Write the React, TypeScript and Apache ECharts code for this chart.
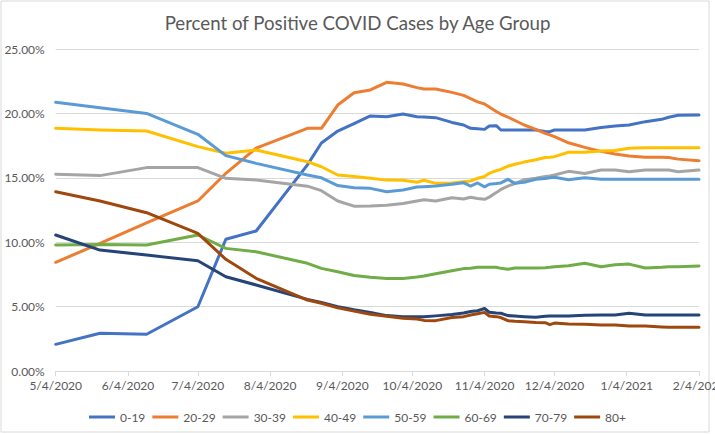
import { useEffect, useRef } from 'react';
import * as echarts from 'echarts';

const sampleDates = [
  '5/4/2020', '5/23/2020', '6/12/2020', '7/4/2020', '7/16/2020', '7/29/2020', '8/20/2020', '8/26/2020',
  '9/2/2020', '9/9/2020', '9/16/2020', '9/23/2020', '9/30/2020', '10/6/2020', '10/9/2020', '10/14/2020',
  '10/21/2020', '10/26/2020', '10/29/2020', '11/1/2020', '11/4/2020', '11/6/2020', '11/9/2020', '11/11/2020',
  '11/14/2020', '11/17/2020', '11/21/2020', '11/26/2020', '11/30/2020', '12/2/2020', '12/4/2020', '12/10/2020',
  '12/17/2020', '12/24/2020', '12/30/2020', '1/5/2021', '1/12/2021', '1/19/2021', '1/22/2021', '1/26/2021',
  '2/4/2021',
];

const age0to19 = [
  2.07, 2.93, 2.85, 4.99, 10.23, 10.87, 16.0, 17.7,
  18.63, 19.2, 19.8, 19.74, 19.95, 19.74, 19.72, 19.67,
  19.3, 19.1, 18.84, 18.8, 18.76, 19.02, 19.05, 18.71,
  18.71, 18.71, 18.71, 18.71, 18.6, 18.58, 18.71, 18.71,
  18.71, 18.9, 19.02, 19.1, 19.36, 19.54, 19.7, 19.85,
  19.88,
];
const age20to29 = [
  8.44, 9.9, 11.5, 13.2, 15.35, 17.3, 18.84, 18.84,
  20.65, 21.6, 21.82, 22.41, 22.28, 22.0, 21.9, 21.9,
  21.63, 21.4, 21.15, 20.9, 20.73, 20.5, 20.15, 19.95,
  19.72, 19.45, 19.1, 18.76, 18.45, 18.33, 18.2, 17.72,
  17.36, 17.05, 16.85, 16.7, 16.6, 16.59, 16.57, 16.45,
  16.33,
];
const age30to39 = [
  15.27, 15.17, 15.79, 15.79, 14.96, 14.83, 14.35, 14.0,
  13.2, 12.8, 12.81, 12.86, 13.0, 13.2, 13.3, 13.2,
  13.45, 13.35, 13.49, 13.4, 13.33, 13.5, 13.85, 14.1,
  14.35, 14.55, 14.85, 14.96, 15.1, 15.14, 15.22, 15.5,
  15.33, 15.61, 15.61, 15.47, 15.6, 15.61, 15.61, 15.47,
  15.6,
];
const age40to49 = [
  18.84, 18.71, 18.63, 17.42, 16.9, 17.16, 16.25, 15.86,
  15.22, 15.1, 14.96, 14.82, 14.81, 14.65, 14.81, 14.57,
  14.6, 14.7, 14.75, 14.96, 15.1, 15.35, 15.55, 15.65,
  15.9, 16.05, 16.22, 16.4, 16.57, 16.6, 16.64, 16.98,
  16.98, 17.08, 17.12, 17.3, 17.34, 17.34, 17.34, 17.34,
  17.34,
];
const age50to59 = [
  20.86, 20.44, 20.0, 18.38, 16.72, 16.12, 15.22, 15.0,
  14.4, 14.23, 14.18, 13.92, 14.05, 14.28, 14.31, 14.36,
  14.5, 14.62, 14.36, 14.6, 14.3, 14.5, 14.55, 14.6,
  14.88, 14.57, 14.65, 14.88, 14.95, 15.0, 15.05, 14.85,
  15.0, 14.88, 14.88, 14.88, 14.88, 14.88, 14.88, 14.88,
  14.88,
];
const age60to69 = [
  9.78, 9.83, 9.78, 10.56, 9.52, 9.26, 8.36, 7.97,
  7.71, 7.42, 7.27, 7.19, 7.19, 7.3, 7.38, 7.55,
  7.78, 7.95, 7.97, 8.05, 8.05, 8.05, 8.05, 7.97,
  7.9, 8.0, 8.0, 8.0, 8.02, 8.05, 8.1, 8.18,
  8.36, 8.1, 8.25, 8.3, 8.0, 8.05, 8.1, 8.1,
  8.15,
];
const age70to79 = [
  10.56, 9.39, 9.0, 8.56, 7.32, 6.68, 5.56, 5.33,
  4.99, 4.75, 4.55, 4.3, 4.22, 4.22, 4.22, 4.28,
  4.38, 4.5, 4.62, 4.68, 4.85, 4.56, 4.5, 4.48,
  4.3, 4.27, 4.22, 4.17, 4.25, 4.27, 4.27, 4.27,
  4.32, 4.35, 4.35, 4.48, 4.35, 4.35, 4.35, 4.35,
  4.35,
];
const age80plus = [
  13.92, 13.2, 12.29, 10.69, 8.67, 7.2, 5.51, 5.26,
  4.9, 4.65, 4.4, 4.25, 4.09, 4.04, 3.93, 3.91,
  4.15, 4.22, 4.35, 4.45, 4.55, 4.27, 4.22, 4.15,
  3.91, 3.86, 3.83, 3.77, 3.75, 3.6, 3.72, 3.65,
  3.62, 3.57, 3.57, 3.5, 3.49, 3.42, 3.39, 3.39,
  3.39,
];

const seriesDefs = [
  { name: '0-19', values: age0to19, color: '#4472C4' },
  { name: '20-29', values: age20to29, color: '#ED7D31' },
  { name: '30-39', values: age30to39, color: '#A5A5A5' },
  { name: '40-49', values: age40to49, color: '#FFC000' },
  { name: '50-59', values: age50to59, color: '#5B9BD5' },
  { name: '60-69', values: age60to69, color: '#70AD47' },
  { name: '70-79', values: age70to79, color: '#264478' },
  { name: '80+', values: age80plus, color: '#9E480E' },
];

// daily category axis, 5/4/2020 .. 2/4/2021
const dayLabels: string[] = [];
for (let t = Date.UTC(2020, 4, 4); t <= Date.UTC(2021, 1, 4); t += 86400000) {
  const d = new Date(t);
  dayLabels.push(`${d.getUTCMonth() + 1}/${d.getUTCDate()}/${d.getUTCFullYear()}`);
}

const isMonthTick = (_index: number, value: string) => value.split('/')[1] === '4';

const FONT = 'Lato';
const TEXT = '#595959';
const GRID = '#D9D9D9';

export default function App() {
  const chartRef = useRef<HTMLDivElement | null>(null);

  useEffect(() => {
    if (!chartRef.current) return;
    const chart = echarts.init(chartRef.current, undefined, { renderer: 'svg' });

    chart.setOption({
      animation: false,
      textStyle: { fontFamily: FONT },
      title: {
        text: 'Percent of Positive COVID Cases by Age Group',
        left: 'center',
        top: 8,
        textStyle: { color: TEXT, fontSize: 18.67, fontWeight: 'normal', fontFamily: FONT },
      },
      legend: {
        top: 406,
        left: 'center',
        icon: 'rect',
        itemWidth: 26,
        itemHeight: 3,
        itemGap: 7,
        textStyle: { color: TEXT, fontSize: 12, fontFamily: FONT },
        data: seriesDefs.map((s) => s.name),
      },
      grid: { left: 55.7, right: 16, top: 49, bottom: 63, outerBoundsMode: 'none', containLabel: false },
      xAxis: {
        type: 'category',
        data: dayLabels,
        boundaryGap: false,
        axisLine: { lineStyle: { color: GRID, width: 1 } },
        axisTick: { show: true, interval: isMonthTick, length: 5, lineStyle: { color: GRID } },
        axisLabel: { interval: isMonthTick, color: TEXT, fontSize: 12, margin: 8, fontFamily: FONT },
        splitLine: { show: false },
      },
      yAxis: {
        type: 'value',
        min: 0,
        max: 25,
        interval: 5,
        axisLine: { show: false },
        axisTick: { show: false },
        axisLabel: {
          color: TEXT,
          fontSize: 12,
          margin: 11,
          fontFamily: FONT,
          formatter: (v: number) => `${v.toFixed(2)}%`,
        },
        splitLine: { lineStyle: { color: GRID, width: 1 } },
      },
      graphic: [
        {
          type: 'rect',
          shape: { x: 1, y: 1, width: 708, height: 431 },
          style: { fill: 'none', stroke: GRID, lineWidth: 1 },
          silent: true,
        },
      ],
      series: seriesDefs.map((s) => ({
        name: s.name,
        type: 'line',
        showSymbol: false,
        color: s.color,
        lineStyle: { color: s.color, width: 3, cap: 'round', join: 'round' },
        data: sampleDates.map((d, i) => [dayLabels.indexOf(d), s.values[i]]),
      })),
    });

    return () => {
      chart.dispose();
    };
  }, []);

  return (
    <div
      ref={chartRef}
      style={{ position: 'fixed', left: 0, top: 0, width: 715, height: 434, background: '#fff' }}
    />
  );
}
